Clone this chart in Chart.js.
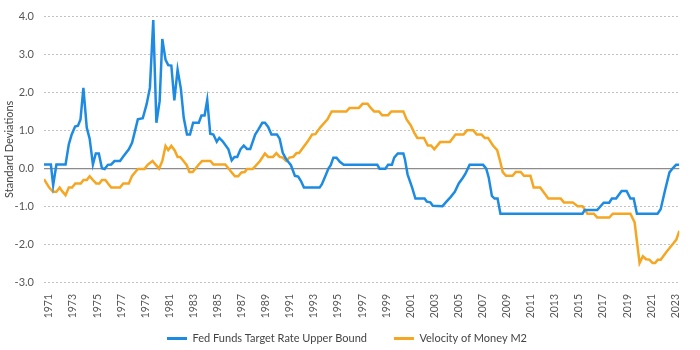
<!DOCTYPE html>
<html>
<head>
<meta charset="utf-8">
<script src="https://cdn.jsdelivr.net/npm/chart.js@4"></script>
<style>
html,body{margin:0;padding:0;background:#fff;}
#wrap{width:700px;height:350px;}
</style>
</head>
<body>
<div id="wrap"><canvas id="c" width="700" height="350"></canvas></div>
<script>
const tickYears = [1971,1973,1975,1977,1979,1981,1983,1985,1987,1989,1991,1993,1995,1997,1999,2001,2003,2005,2007,2009,2011,2013,2015,2017,2019,2021,2023];
const yTicks = [-3,-2,-1,0,1,2,3,4];

const fedYears = [1970.59,1971.16,1971.35,1971.62,1972.38,1972.65,1972.89,1973.17,1973.41,1973.62,1973.86,1974.14,1974.38,1974.65,1974.89,1975.14,1975.40,1975.62,1975.89,1976.17,1976.44,1976.90,1977.17,1977.63,1977.90,1978.11,1978.38,1978.79,1979.11,1979.38,1979.66,1979.92,1980.19,1980.41,1980.68,1980.90,1981.16,1981.41,1981.68,1981.95,1982.19,1982.46,1982.71,1982.97,1983.44,1983.66,1983.92,1984.14,1984.39,1984.65,1984.93,1985.14,1985.42,1985.90,1986.17,1986.40,1986.63,1986.90,1987.17,1987.44,1987.71,1988.12,1988.38,1988.71,1988.93,1989.20,1989.47,1989.93,1990.15,1990.41,1990.69,1991.09,1991.42,1991.69,1991.91,1992.17,1993.47,1993.66,1993.93,1994.20,1994.39,1994.61,1994.87,1995.15,1995.47,1998.26,1998.44,1998.93,1999.15,1999.47,1999.66,1999.96,2000.42,2000.55,2000.77,2001.15,2001.42,2002.18,2002.37,2002.66,2002.86,2003.67,2003.94,2004.34,2004.69,2005.02,2005.36,2005.56,2005.92,2007.04,2007.30,2007.51,2007.77,2007.99,2008.24,2008.48,2015.29,2015.48,2016.51,2017.05,2017.51,2017.73,2018.08,2018.54,2018.95,2019.27,2019.54,2019.81,2021.52,2021.78,2022.13,2022.51,2022.78,2023.06,2023.33];
const fedValues = [0.1,0.1,-0.45,0.1,0.1,0.63,0.89,1.1,1.12,1.29,2.12,1.07,0.78,0.1,0.39,0.39,0.0,-0.02,0.09,0.1,0.19,0.19,0.31,0.5,0.67,0.94,1.29,1.32,1.69,2.12,3.91,1.2,1.77,3.41,2.86,2.72,2.71,1.79,2.6,2.1,1.33,0.89,0.89,1.2,1.2,1.39,1.39,1.8,0.91,0.89,0.7,0.8,0.71,0.5,0.21,0.3,0.3,0.5,0.6,0.51,0.51,0.89,1.02,1.2,1.2,1.09,0.89,0.89,0.78,0.41,0.24,0.08,-0.2,-0.22,-0.33,-0.51,-0.51,-0.42,-0.22,-0.01,0.08,0.28,0.28,0.17,0.09,0.09,-0.01,-0.01,0.09,0.09,0.28,0.39,0.39,0.24,-0.16,-0.51,-0.8,-0.8,-0.88,-0.9,-0.99,-1.0,-0.9,-0.76,-0.62,-0.4,-0.25,-0.15,0.09,0.09,-0.01,-0.25,-0.73,-0.8,-0.8,-1.2,-1.2,-1.1,-1.1,-0.91,-0.91,-0.8,-0.8,-0.6,-0.6,-0.8,-0.8,-1.2,-1.2,-1.08,-0.6,-0.11,0.0,0.09,0.09];

const velYears = [1970.59,1971.02,1971.35,1971.62,1971.89,1972.11,1972.38,1972.65,1972.92,1973.19,1973.65,1973.86,1974.14,1974.38,1974.65,1974.92,1975.19,1975.40,1975.68,1975.95,1976.17,1976.90,1977.17,1977.63,1977.90,1978.38,1978.93,1979.19,1979.60,1979.87,1980.14,1980.41,1980.68,1980.90,1981.16,1981.44,1981.68,1981.89,1982.17,1982.44,1982.66,1982.93,1983.19,1983.44,1983.71,1984.41,1984.65,1985.63,1985.90,1986.17,1986.44,1986.71,1986.98,1987.25,1987.44,1987.90,1988.12,1988.52,1988.93,1989.20,1989.60,1989.88,1990.15,1990.41,1990.69,1990.96,1991.28,1991.55,1991.77,1992.04,1992.44,1992.85,1993.12,1993.53,1994.12,1994.47,1995.69,1995.96,1996.72,1997.04,1997.45,1997.71,1997.99,1998.40,1998.66,1999.15,1999.42,2000.42,2000.69,2001.04,2001.32,2001.58,2002.13,2002.45,2002.72,2002.99,2003.47,2004.28,2004.75,2005.42,2005.70,2006.23,2006.51,2006.91,2007.18,2007.45,2007.86,2008.21,2008.45,2008.67,2008.94,2009.48,2009.75,2010.16,2010.43,2010.97,2011.24,2011.78,2012.45,2013.48,2013.75,2014.48,2014.89,2015.29,2015.70,2016.24,2016.51,2017.51,2017.81,2019.27,2019.62,2019.80,2020.03,2020.30,2020.57,2020.84,2021.11,2021.32,2021.54,2021.78,2022.27,2022.84,2023.08,2023.33];
const velValues = [-0.29,-0.51,-0.62,-0.62,-0.51,-0.61,-0.71,-0.51,-0.51,-0.4,-0.4,-0.31,-0.31,-0.21,-0.31,-0.4,-0.4,-0.31,-0.31,-0.42,-0.51,-0.51,-0.4,-0.4,-0.2,-0.02,-0.02,0.09,0.19,0.09,-0.01,0.19,0.59,0.48,0.59,0.47,0.3,0.3,0.19,0.08,-0.1,-0.1,0.0,0.1,0.19,0.19,0.1,0.1,0.0,-0.11,-0.21,-0.21,-0.11,-0.1,-0.02,-0.02,0.05,0.19,0.39,0.3,0.3,0.4,0.3,0.28,0.19,0.28,0.3,0.4,0.4,0.52,0.69,0.89,0.9,1.08,1.29,1.5,1.5,1.59,1.59,1.7,1.7,1.59,1.5,1.5,1.4,1.4,1.5,1.5,1.29,1.13,0.94,0.8,0.8,0.6,0.6,0.5,0.69,0.69,0.89,0.89,1.0,1.0,0.89,0.89,0.8,0.8,0.6,0.48,0.19,-0.1,-0.2,-0.2,-0.1,-0.1,-0.2,-0.2,-0.51,-0.51,-0.8,-0.8,-0.9,-0.9,-1.0,-1.0,-1.2,-1.2,-1.3,-1.3,-1.2,-1.2,-1.43,-1.9,-2.5,-2.32,-2.4,-2.41,-2.5,-2.5,-2.41,-2.41,-2.2,-1.98,-1.88,-1.65];

const seriesNames = ['Fed Funds Target Rate Upper Bound', 'Velocity of Money M2'];
const seriesColors = ['#1E8BE2', '#F5A623'];

const toPts = (xs, ys) => xs.map((x, i) => ({x: x, y: ys[i]}));
const FONT = 'Lato, "Open Sans", sans-serif';

new Chart(document.getElementById('c'), {
  type: 'line',
  data: {
    datasets: [
      {label: seriesNames[0], data: toPts(fedYears, fedValues), borderColor: seriesColors[0], backgroundColor: seriesColors[0], borderWidth: 2.5, pointRadius: 0, tension: 0, fill: false},
      {label: seriesNames[1], data: toPts(velYears, velValues), borderColor: seriesColors[1], backgroundColor: seriesColors[1], borderWidth: 2.5, pointRadius: 0, tension: 0, fill: false}
    ]
  },
  options: {
    responsive: false,
    animation: false,
    devicePixelRatio: 1,
    layout: {padding: {top: 8, right: 6, left: 0, bottom: 0}},
    plugins: {
      tooltip: {enabled: false},
      legend: {
        position: 'bottom',
        maxHeight: 44,
        labels: {
          font: {family: FONT, size: 11},
          color: '#444',
          padding: 27,
          boxWidth: 20,
          boxHeight: 3,
          generateLabels: (chart) => chart.data.datasets.map((d, i) => ({
            text: d.label, fillStyle: d.borderColor, strokeStyle: d.borderColor, lineWidth: 0, datasetIndex: i, fontColor: '#444'
          }))
        }
      }
    },
    scales: {
      x: {
        type: 'linear',
        min: 1970.59,
        max: 2023.33,
        afterBuildTicks: (s) => { s.ticks = tickYears.map(v => ({value: v})); },
        afterFit: (s) => { s.height = 24; s._computeLabelArea = () => undefined; },
        grid: {display: false, drawTicks: false},
        border: {display: false},
        ticks: {
          autoSkip: false,
          minRotation: 90,
          maxRotation: 90,
          padding: 12,
          color: '#555',
          font: {family: FONT, size: 10.5},
          callback: (v) => String(v)
        }
      },
      y: {
        min: -3,
        max: 4,
        afterBuildTicks: (s) => { s.ticks = yTicks.map(v => ({value: v})); },
        afterFit: (s) => { s.width = 44; },
        title: {display: true, text: 'Standard Deviations', color: '#444', font: {family: FONT, size: 11}, padding: {top: 3, bottom: 0}},
        grid: {
          drawTicks: false,
          color: (ctx) => (ctx.tick && ctx.tick.value === 0) ? '#8c8c8c' : '#c2c2c2',
          lineWidth: (ctx) => (ctx.tick && ctx.tick.value === 0) ? 1.3 : 1
        },
        border: {
          display: false,
          dash: (ctx) => (ctx.tick && ctx.tick.value === 0) ? [] : [2, 2]
        },
        ticks: {
          padding: 10,
          color: '#555',
          font: {family: FONT, size: 11},
          callback: (v) => Number(v).toFixed(1)
        }
      }
    }
  }
});
</script>
</body>
</html>
